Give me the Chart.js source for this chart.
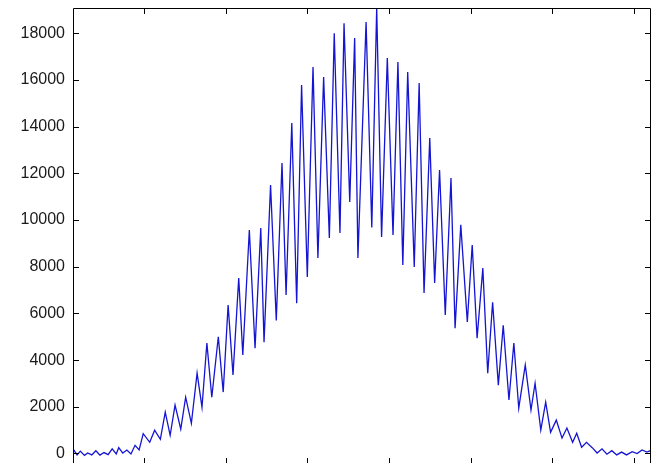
<!DOCTYPE html>
<html>
<head>
<meta charset="utf-8">
<script src="https://cdn.jsdelivr.net/npm/chart.js@4.4.0/dist/chart.umd.min.js"></script>
<style>
  html, body { margin: 0; padding: 0; background: #fff; overflow: hidden; }
  #wrap { width: 652px; height: 463px; overflow: hidden; }
</style>
</head>
<body>
<div id="wrap"><canvas id="plot" width="652" height="480"></canvas></div>
<script>
/* Oscillating signal — peaks and troughs */

const xValues = [
  13, 18, 22, 27, 31, 36, 41, 46, 51, 56, 61, 66, 69, 74, 79, 84, 89, 94,
  99, 107, 113, 120, 126, 132, 138, 145, 151, 158, 165, 171, 177, 183, 191, 197,
  203, 209, 216, 221, 229, 236, 243, 247, 255, 262, 269, 274, 281, 287, 293, 300,
  307, 313, 320, 327, 333, 340, 345, 352, 358, 362, 372, 379, 385, 391, 398, 405,
  411, 417, 423, 431, 437, 443, 450, 456, 462, 469, 476, 481, 488, 496, 502, 508,
  515, 521, 527, 534, 540, 547, 553, 559, 567, 574, 579, 586, 592, 598, 605, 612,
  618, 625, 630, 636, 642, 649, 655, 661, 667, 673, 679, 685, 691, 698, 704, 710,
  716, 721
];

const signal = [
  200, -60, 100, -80, 20, -60, 120, -70, 40, -50, 200, -20, 250, 20, 150, -20, 350, 150,
  850, 480, 1000, 610, 1770, 780, 2070, 1040, 2410, 1290, 3440, 1980, 4730, 2410, 5000, 2630,
  6360, 3360, 7510, 4220, 9570, 4510, 9660, 4770, 11500, 5700, 12440, 6790, 14150, 6440, 15780, 7560,
  16550, 8370, 16120, 9230, 18000, 9440, 18430, 10770, 17790, 8370, 18480, 9680, 19080, 9270, 16940, 9360,
  16770, 8070, 16340, 7990, 15870, 6870, 13510, 7300, 12140, 5930, 11800, 5370, 9790, 5630, 8930, 4940,
  7940, 3440, 6480, 2930, 5490, 2290, 4730, 1940, 3790, 1860, 3010, 1000, 2200, 910, 1430, 660,
  1090, 480, 870, 270, 480, 250, 20, 200, -30, 120, -60, 60, -60, 80, 0, 150,
  60, 130
];

const yTicks = [0, 2000, 4000, 6000, 8000, 10000, 12000, 14000, 16000, 18000];
const xTicks = [100, 200, 300, 400, 500, 600, 700];

const X_MIN = 13, X_MAX = 721;
const Y_MIN = -450, Y_MAX = 19080;
const TICK_LEN = 6;

// MATLAB-style box with inward ticks on all four sides
const boxPlugin = {
  id: 'boxAxes',
  afterDatasetsDraw(chart) {
    const { ctx, chartArea: a, scales } = chart;
    ctx.save();
    ctx.strokeStyle = '#000';
    ctx.lineWidth = 1;
    ctx.beginPath();
    ctx.rect(a.left + 0.5, a.top + 0.5, a.right - a.left - 1, a.bottom - a.top - 1);
    yTicks.forEach(v => {
      const y = Math.round(scales.y.getPixelForValue(v)) + 0.5;
      ctx.moveTo(a.left, y); ctx.lineTo(a.left + TICK_LEN, y);
      ctx.moveTo(a.right, y); ctx.lineTo(a.right - TICK_LEN, y);
    });
    xTicks.forEach(v => {
      const x = Math.round(scales.x.getPixelForValue(v)) + 0.5;
      ctx.moveTo(x, a.top); ctx.lineTo(x, a.top + TICK_LEN);
      ctx.moveTo(x, a.bottom); ctx.lineTo(x, a.bottom - TICK_LEN);
    });
    ctx.stroke();
    ctx.restore();
  }
};

new Chart(document.getElementById('plot'), {
  type: 'line',
  data: {
    datasets: [{
      data: xValues.map((x, i) => ({ x, y: signal[i] })),
      borderColor: '#1414d2',
      borderWidth: 1.3,
      pointRadius: 0,
      tension: 0,
      fill: false
    }]
  },
  options: {
    responsive: false,
    animation: false,
    devicePixelRatio: 1,
    layout: { padding: { top: 8, right: 1, left: 0, bottom: 16 } },
    plugins: { legend: { display: false }, tooltip: { enabled: false } },
    scales: {
      x: {
        type: 'linear',
        display: false,
        min: X_MIN,
        max: X_MAX
      },
      y: {
        type: 'linear',
        min: Y_MIN,
        max: Y_MAX,
        grid: { display: false },
        border: { display: false },
        afterBuildTicks: s => { s.ticks = yTicks.map(v => ({ value: v })); },
        afterFit: s => { s.width = 73; s.paddingTop = 0; s.paddingBottom = 0; },
        ticks: {
          padding: 0,
          color: '#1a1a1a',
          font: { family: 'Liberation Sans, Arial, sans-serif', size: 16 },
          callback: v => String(v)
        }
      }
    }
  },
  plugins: [boxPlugin]
});
</script>
</body>
</html>
